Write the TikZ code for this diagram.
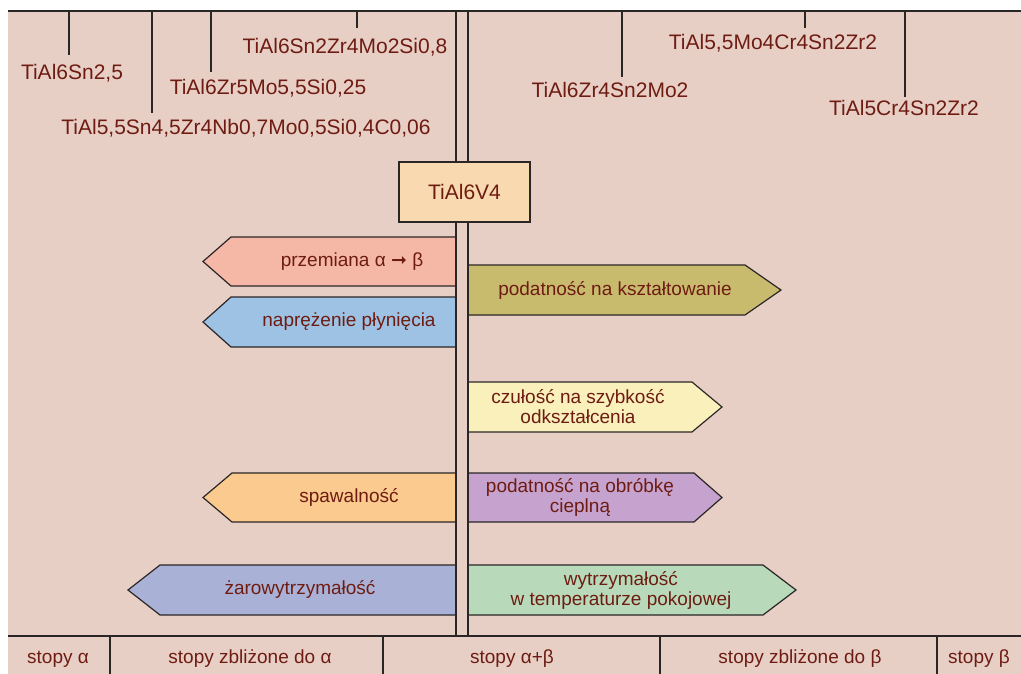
\documentclass[tikz,border=0pt]{standalone}
\usepackage{fontspec}
\setmainfont{Liberation Sans}
\newfontfamily\symfont{DejaVu Sans}
\usetikzlibrary{calc}
\definecolor{bg}{HTML}{E8CFC6}
\definecolor{ln}{HTML}{2A2626}
\definecolor{txt}{HTML}{6E1C12}
\definecolor{boxc}{HTML}{F9D9B0}
\definecolor{salmon}{HTML}{F6B8A6}
\definecolor{skyb}{HTML}{9DC2E4}
\definecolor{olive}{HTML}{C9BB6E}
\definecolor{paleyel}{HTML}{F9F0BC}
\definecolor{orangec}{HTML}{FBCA8E}
\definecolor{purplec}{HTML}{C6A3CE}
\definecolor{slatec}{HTML}{AAB1D6}
\definecolor{greenc}{HTML}{B8DABA}
\begin{document}
\begin{tikzpicture}[x=1pt,y=-1pt,
  rulel/.style={draw=ln, line width=1.6pt},
  thin/.style={draw=ln, line width=1.4pt},
  sign/.style={draw=ln, line width=1.2pt, line join=miter},
  lab/.style={text=txt, font=\fontsize{21}{24}\selectfont, inner sep=0pt, text height=15pt, text depth=4pt},
  signtxt/.style={text=txt, font=\fontsize{19}{20}\selectfont, align=center, inner sep=0pt},
  botlab/.style={text=txt, font=\fontsize{19}{22}\selectfont, inner sep=0pt, anchor=base},
  alloybox/.style={draw=ln, line width=1.2pt, fill=boxc, text=txt, font=\fontsize{21}{24}\selectfont, minimum width=131pt, minimum height=60pt, inner sep=0pt}
]
\useasboundingbox (0,0) rectangle (1021,674);
\fill[bg] (8,11) rectangle (1021,674);

% signs (left)
\draw[sign, fill=salmon] (456,237) -- (231,237) -- (203,261.5) -- (231,286) -- (456,286) -- cycle;
\draw[sign, fill=skyb] (456,297) -- (231,297) -- (203,322) -- (231,347) -- (456,347) -- cycle;
\draw[sign, fill=orangec] (456,473) -- (232,473) -- (203,497.5) -- (232,522) -- (456,522) -- cycle;
\draw[sign, fill=slatec] (456,565) -- (160,565) -- (128,590) -- (160,615) -- (456,615) -- cycle;
% signs (right)
\draw[sign, fill=olive] (468,265) -- (745,265) -- (781,290) -- (745,315) -- (468,315) -- cycle;
\draw[sign, fill=paleyel] (468,382) -- (692,382) -- (722,407) -- (692,432) -- (468,432) -- cycle;
\draw[sign, fill=purplec] (468,473) -- (694,473) -- (722,497.5) -- (694,522) -- (468,522) -- cycle;
\draw[sign, fill=greenc] (468,565) -- (763,565) -- (796,590) -- (763,615) -- (468,615) -- cycle;

% sign texts
\node[signtxt] (s1) at (352,262) {przemiana α {\symfont\bfseries ➞} β};
\node[signtxt] (s2) at (349,322) {naprężenie płynięcia};
\node[signtxt] (s3) at (349,497) {spawalność};
\node[signtxt] (s4) at (300,589) {żarowytrzymałość};
\node[signtxt] (s5) at (615,290) {podatność na kształtowanie};
\node[signtxt] (s6) at (578,407) {czułość na szybkość\\odkształcenia};
\node[signtxt] (s7) at (580,497) {podatność na obróbkę\\cieplną};
\node[signtxt] (s8) at (621,590) {wytrzymałość\\w temperaturze pokojowej};

% central post
\coordinate (pl1) at (456,11);
\coordinate (pl2) at (456,636);
\coordinate (pr1) at (468,11);
\coordinate (pr2) at (468,636);
\draw[thin] (pl1) -- (pl2);
\draw[thin] (pr1) -- (pr2);

% top and bottom rules
\coordinate (tl) at (8,11);
\coordinate (tr) at (1021,11);
\coordinate (bl) at (8,636);
\coordinate (br) at (1021,636);
\draw[rulel] (tl) -- (tr);
\draw[thin] (bl) -- (br);

% alloy box
\node[alloybox] (v4) at (464.5,192) {TiAl6V4};

% top labels
\node[lab] (l1) at (72,74) {TiAl6Sn2,5};
\node[lab] (l2) at (246,129) {TiAl5,5Sn4,5Zr4Nb0,7Mo0,5Si0,4C0,06};
\node[lab] (l3) at (268,89) {TiAl6Zr5Mo5,5Si0,25};
\node[lab] (l4) at (345,48) {TiAl6Sn2Zr4Mo2Si0,8};
\node[lab] (l5) at (610,92) {TiAl6Zr4Sn2Mo2};
\node[lab] (l6) at (773,44) {TiAl5,5Mo4Cr4Sn2Zr2};
\node[lab] (l7) at (904,110) {TiAl5Cr4Sn2Zr2};

\coordinate (t1) at (69,11);
\coordinate (t2) at (152,11);
\coordinate (t3) at (211,11);
\coordinate (t4) at (357,11);
\coordinate (t5) at (622,11);
\coordinate (t6) at (805,11);
\coordinate (t7) at (905,11);
\draw[thin, shorten >=9.5pt] (t1) -- (t1 |- l1.north);
\draw[thin, shorten >=6.5pt] (t2) -- (t2 |- l2.north);
\draw[thin, shorten >=7.5pt] (t3) -- (t3 |- l3.north);
\draw[thin, shorten >=10.5pt] (t4) -- (t4 |- l4.north);
\draw[thin, shorten >=5.5pt] (t5) -- (t5 |- l5.north);
\draw[thin, shorten >=6.5pt] (t6) -- (t6 |- l6.north);
\draw[thin, shorten >=3.5pt] (t7) -- (t7 |- l7.north);

% bottom classes
\coordinate (d1) at (110,636); \coordinate (e1) at (110,674);
\coordinate (d2) at (383,636); \coordinate (e2) at (383,674);
\coordinate (d3) at (660,636); \coordinate (e3) at (660,674);
\coordinate (d4) at (937,636); \coordinate (e4) at (937,674);
\draw[thin] (d1) -- (e1);
\draw[thin] (d2) -- (e2);
\draw[thin] (d3) -- (e3);
\draw[thin] (d4) -- (e4);
\node[botlab] (b1) at (58,663) {stopy α};
\node[botlab] (b2) at (250,663) {stopy zbliżone do α};
\node[botlab] (b3) at (512,663) {stopy α+β};
\node[botlab] (b4) at (800,663) {stopy zbliżone do β};
\node[botlab] (b5) at (979,663) {stopy β};
\end{tikzpicture}
\end{document}
